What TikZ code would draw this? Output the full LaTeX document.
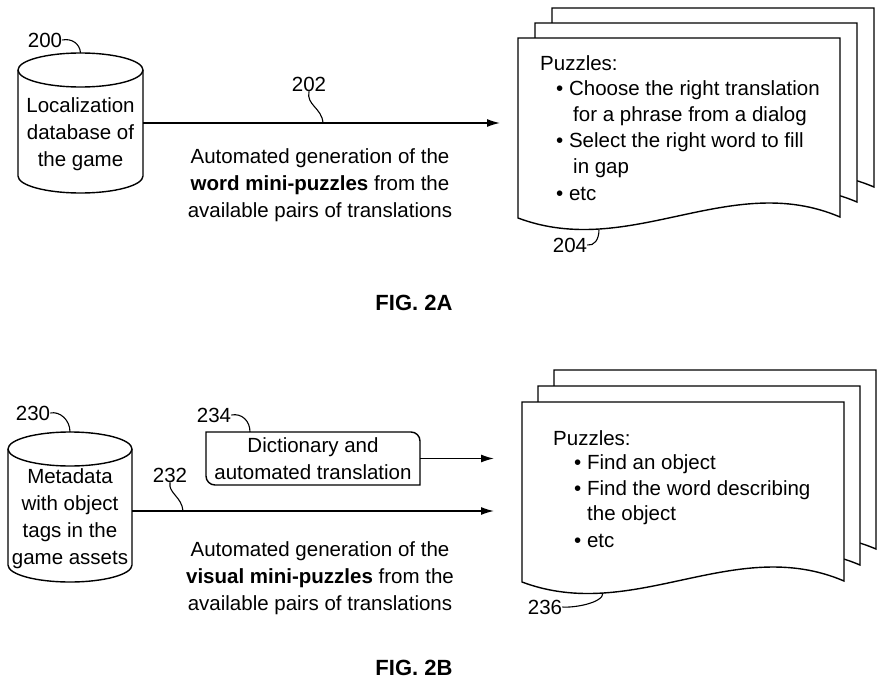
\documentclass[tikz,border=0pt]{standalone}
\usepackage{fontspec}
\setmainfont{Liberation Sans}
\usetikzlibrary{arrows.meta}
\begin{document}
\begin{tikzpicture}[x=1pt,y=-1pt,
  every node/.style={inner sep=0pt, font=\fontsize{20.5}{27}\selectfont},
  ln/.style={line width=1.4pt},
  arr/.style={line width=1.4pt, -{Latex[length=13pt,width=8pt]}},
  leader/.style={line width=1.1pt},
  page/.style={line width=1.4pt, fill=white, line join=miter},
  txt/.style={align=center},
  item/.style={anchor=base west},
  fig/.style={font=\fontsize{22}{26}\selectfont\bfseries}]
\useasboundingbox (0,0) rectangle (884,688);

% ---------- FIG. 2A ----------
\node (db1) [minimum width=125pt, minimum height=140pt] at (80.5,123) {};
\draw[ln] (18,70) -- (18,176) .. controls (18,185.4) and (46,193) .. (80.5,193)
  .. controls (115,193) and (143,185.4) .. (143,176) -- (143,70);
\draw[ln] (80.5,70) ellipse [x radius=62.5, y radius=17];
\node[txt] (db1t) at (80.5,134) {Localization\\database of\\the game};
\node (l200) at (45,40) {200};
\draw[leader] (l200.east) .. controls (72,38) and (80,44) .. (80.5,53);

\coordinate (a1end) at (500,123);
\draw[arr] (db1.east) -- (a1end);
\node (l202) at (309,84) {202};
\coordinate (c202) at (323,123);
\draw[leader] (l202.south) .. controls (306,105) and (322,108) .. (c202);
\node[txt] (capA) at (320,185) {Automated generation of the\\\textbf{word mini-puzzles} from the\\available pairs of translations};

\foreach \sx/\sy in {552/8, 535/23, 518/38}
  \draw[page, shift={(\sx,\sy)}] (0,0) -- (322,0) -- (322,179)
    .. controls (212,132) and (112,222) .. (0,180) -- cycle;
\node[item] (a1) at (540,70) {Puzzles:};
\node[item] (a2) at (556,95) {\textbullet\ Choose the right translation};
\node[item] (a3) at (573,121) {for a phrase from a dialog};
\node[item] (a4) at (556,147) {\textbullet\ Select the right word to fill};
\node[item] (a5) at (573,173) {in gap};
\node[item] (a6) at (556,200) {\textbullet\ etc};
\node (l204) at (570,245) {204};
\coordinate (c204) at (599,229.5);
\draw[leader] (l204.east) .. controls (594,246) and (599,240) .. (c204);

\node[fig] (figA) at (414,303) {FIG. 2A};

% ---------- FIG. 2B ----------
\node (db2) [minimum width=124pt, minimum height=150pt] at (70,511) {};
\draw[ln] (8,449) -- (8,565) .. controls (8,574.4) and (35.8,582) .. (70,582)
  .. controls (104.2,582) and (132,574.4) .. (132,565) -- (132,449);
\draw[ln] (70,449) ellipse [x radius=62, y radius=17];
\node[txt] (db2t) at (70,519) {Metadata\\with object\\tags in the\\game assets};
\node (l230) at (33,413) {230};
\draw[leader] (l230.east) .. controls (60,411) and (70,420) .. (70,432);

\node (l232) at (170,475) {232};
\coordinate (c232) at (183,511);
\draw[leader] (l232.south) .. controls (168,493) and (182,497) .. (c232);

\node (l234) at (214,415) {234};
\draw[leader] (l234.east) .. controls (242,413) and (250,421) .. (250,432);
\node[txt, minimum width=214pt, minimum height=53pt] (dict) at (313,458.5) {Dictionary and\\automated translation};
\draw[ln] (206,432) -- (411,432) .. controls (416,432) and (420,436) .. (420,441)
  -- (420,485) -- (215,485) .. controls (210,485) and (206,481) .. (206,476) -- cycle;

\coordinate (b1end) at (494,458.5);
\draw[arr] (dict.east) -- (b1end);
\coordinate (b2end) at (494,511);
\draw[arr] (db2.east) -- (b2end);
\node[txt] (capB) at (320,578) {Automated generation of the\\\textbf{visual mini-puzzles} from the\\available pairs of translations};

\foreach \sx/\sy in {554/370, 538/386, 522/402}
  \draw[page, shift={(\sx,\sy)}] (0,0) -- (322,0) -- (322,179)
    .. controls (212,132) and (112,222) .. (0,180) -- cycle;
\node[item] (b1) at (553,445) {Puzzles:};
\node[item] (b2) at (574,469) {\textbullet\ Find an object};
\node[item] (b3) at (574,495) {\textbullet\ Find the word describing};
\node[item] (b4) at (587,520) {the object};
\node[item] (b5) at (574,547) {\textbullet\ etc};
\node (l236) at (545,607) {236};
\coordinate (c236) at (603,593);
\draw[leader] (l236.east) .. controls (574,608) and (603,603) .. (c236);

\node[fig] (figB) at (414,668) {FIG. 2B};
\end{tikzpicture}
\end{document}
